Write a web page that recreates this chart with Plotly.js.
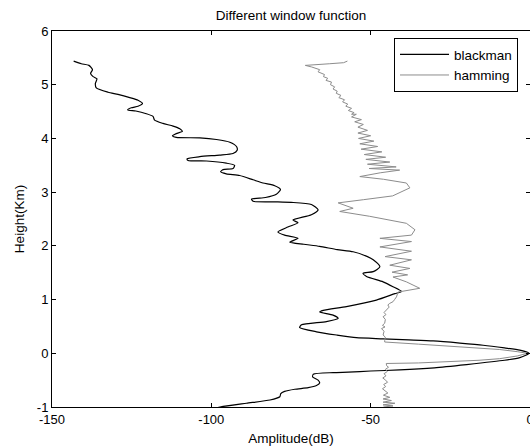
<!DOCTYPE html>
<html>
<head>
<meta charset="utf-8">
<script src="https://cdn.plot.ly/plotly-3.0.1.min.js"></script>
<style>html,body{margin:0;padding:0;background:#fff;}#chart{width:530px;height:448px;}</style>
</head>
<body>
<div id="chart"></div>
<script>
// blackman window: amplitude (dB) vs height (km)
var blackmanAmp = [-143.2,-140.8,-138.4,-137.3,-137.9,-137.1,-135.9,-136.4,-136.1,-132.4,-129.3,-125.6,-123,-121.6,-123,-125.1,-126.3,-123.7,-120.4,-118.3,-117.8,-115.2,-112,-109.9,-109.1,-111,-112.2,-111,-103.6,-98.4,-94.2,-92.1,-91.9,-93.2,-97.4,-103.6,-107.6,-107.3,-101.5,-95.3,-92.7,-93.2,-96.3,-97.1,-95.3,-91.1,-86.9,-83.8,-80.1,-78.3,-79.6,-83,-87.4,-86.9,-80,-74.9,-68.6,-66.5,-68.6,-74.4,-72.8,-76,-79.1,-77,-72.8,-75.4,-71,-66,-60.5,-55.5,-51,-49.2,-47.1,-49.2,-52.4,-51.3,-46.1,-43,-40.3,-42.4,-48.2,-57.6,-64.9,-66,-61.8,-60.2,-63.9,-71.7,-72.3,-67,-60.7,-54.5,-46.1,-38,-30.4,-22,-14.7,-8,-3.2,-0.3,-3.2,-8,-19.9,-30,-40.9,-50,-57,-61.8,-68,-68.2,-66.5,-66,-67,-69.6,-73.8,-77,-78.2,-78.5,-81.6,-89,-96.3,-98];
var blackmanHeight = [5.44,5.39,5.36,5.28,5.21,5.15,5.11,5.02,4.94,4.86,4.82,4.76,4.71,4.65,4.60,4.57,4.53,4.51,4.46,4.41,4.34,4.28,4.23,4.18,4.13,4.09,4.05,4.02,4.01,3.98,3.93,3.85,3.78,3.72,3.69,3.66,3.62,3.59,3.58,3.54,3.50,3.44,3.42,3.38,3.34,3.31,3.23,3.17,3.12,3.05,2.96,2.90,2.87,2.83,2.82,2.81,2.77,2.67,2.58,2.48,2.43,2.35,2.26,2.20,2.14,2.07,2.03,1.99,1.93,1.89,1.80,1.74,1.61,1.52,1.49,1.43,1.33,1.24,1.15,1.11,0.99,0.87,0.80,0.77,0.71,0.65,0.59,0.53,0.48,0.40,0.34,0.29,0.27,0.25,0.23,0.19,0.15,0.10,0.06,0.0,-0.08,-0.13,-0.21,-0.27,-0.31,-0.33,-0.35,-0.36,-0.39,-0.44,-0.50,-0.55,-0.60,-0.64,-0.67,-0.71,-0.75,-0.81,-0.87,-0.93,-0.99,-1.01];

// hamming window
var hammingAmp = [-57.3,-58.5,-63,-67,-70.5,-68.5,-66,-66.5,-64.5,-64.8,-63.5,-64,-62.3,-62.6,-61.3,-61.8,-60.5,-60.8,-59.3,-60,-58.2,-58.8,-57.2,-57.8,-56,-57,-55.2,-56,-54.5,-56,-52.9,-55,-52.3,-54,-51,-54,-50,-53.8,-49,-53.4,-47.8,-53,-46.5,-52,-45.3,-51.5,-44,-51,-42,-50.5,-40.9,-47,-53.4,-46,-38.8,-37.7,-43.1,-52.2,-60.2,-55.5,-59.7,-50.3,-38.8,-36.1,-37.2,-47.1,-37.2,-47.1,-37.2,-45.5,-37.2,-44,-37.7,-43.3,-38.4,-43,-38.8,-36.7,-34.6,-41.4,-41.9,-42.5,-43,-44,-44.6,-44.2,-45.1,-45.8,-45.2,-46.1,-45.4,-45.6,-46.3,-45.5,-46.6,-45.8,-46.1,-45.4,-45.6,-45.6,-35,-25.2,-16,-9.5,-4,-0.8,-4,-9.5,-16,-25.2,-35,-45.1,-45,-44.4,-45.4,-44.8,-45.8,-45.2,-46.2,-45.3,-44.7,-45.9,-45.3,-46.3,-45.5,-44.6,-46,-44,-46.1,-43.5,-46.1,-42.4,-46.1,-43,-46];
var hammingHeight = [5.44,5.41,5.39,5.38,5.36,5.33,5.28,5.24,5.19,5.15,5.12,5.08,5.05,5.00,4.96,4.92,4.88,4.84,4.80,4.76,4.72,4.68,4.64,4.60,4.56,4.52,4.48,4.45,4.45,4.40,4.35,4.31,4.26,4.21,4.15,4.10,4.05,4.00,3.95,3.90,3.85,3.80,3.75,3.70,3.65,3.61,3.56,3.52,3.47,3.44,3.41,3.36,3.29,3.24,3.17,3.08,2.93,2.86,2.80,2.70,2.64,2.55,2.42,2.30,2.20,2.14,2.08,1.98,1.90,1.80,1.74,1.64,1.58,1.51,1.46,1.42,1.33,1.27,1.21,1.14,1.05,1.00,0.96,0.93,0.90,0.86,0.81,0.76,0.72,0.68,0.63,0.56,0.52,0.49,0.46,0.41,0.34,0.30,0.24,0.21,0.17,0.13,0.10,0.07,0.03,0.0,-0.05,-0.10,-0.13,-0.16,-0.18,-0.19,-0.23,-0.26,-0.30,-0.34,-0.38,-0.42,-0.46,-0.50,-0.54,-0.58,-0.62,-0.66,-0.70,-0.74,-0.78,-0.82,-0.85,-0.88,-0.91,-0.93,-0.96,-0.98,-1.0];

var xTicks = [-150, -100, -50, 0];
var yTicks = [-1, 0, 1, 2, 3, 4, 5, 6];

var FONT = 'Arial, "Liberation Sans", Helvetica, sans-serif';

var traces = [
  {x: blackmanAmp, y: blackmanHeight, name: 'blackman', mode: 'lines', type: 'scatter',
   line: {color: '#000000', width: 1.2, shape: 'spline', smoothing: 0.6}},
  {x: hammingAmp, y: hammingHeight, name: 'hamming', mode: 'lines', type: 'scatter',
   line: {color: '#8c8c8c', width: 1}}
];

var axisCommon = {
  showgrid: false, zeroline: false, showline: true, linecolor: '#000', linewidth: 1,
  mirror: 'ticks', ticks: 'inside', ticklen: 4, tickwidth: 1, tickcolor: '#000',
  ticklabeloverflow: 'allow',
  tickfont: {family: FONT, size: 13, color: '#000'}
};

var layout = {
  width: 530, height: 448,
  margin: {l: 52, r: 0, t: 31, b: 41, pad: 0},
  paper_bgcolor: '#fff', plot_bgcolor: '#fff',
  showlegend: true,
  title: {text: 'Different window function', font: {family: FONT, size: 13.5, color: '#000'},
          x: 0.5, xref: 'paper', xanchor: 'center', y: 1 - 15/448, yref: 'container', yanchor: 'middle'},
  xaxis: Object.assign({}, axisCommon, {
    range: [-150, 0], tickmode: 'array', tickvals: xTicks, ticktext: xTicks.map(String),
    title: {text: 'Amplitude(dB)', font: {family: FONT, size: 13.5, color: '#000'}, standoff: 7}
  }),
  yaxis: Object.assign({}, axisCommon, {
    range: [-1, 6], tickmode: 'array', tickvals: yTicks, ticktext: yTicks.map(String),
    title: {text: 'Height(Km)', font: {family: FONT, size: 13.5, color: '#000'}, standoff: 9}
  }),
  legend: {x: 0.7155, y: 0.981, xanchor: 'left', yanchor: 'top', bgcolor: '#fff',
           bordercolor: '#000', borderwidth: 1, font: {family: FONT, size: 13.5, color: '#000'},
           itemwidth: 49, tracegroupgap: 0}
};

Plotly.newPlot('chart', traces, layout, {displayModeBar: false, staticPlot: true});
</script>
</body>
</html>
